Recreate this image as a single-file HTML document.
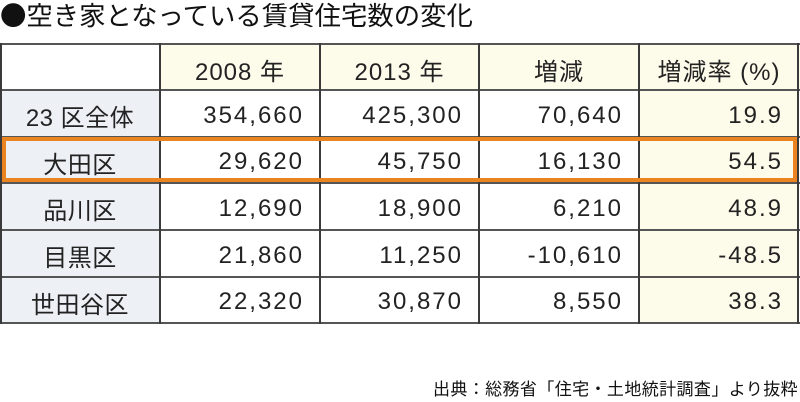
<!DOCTYPE html>
<html><head><meta charset="utf-8"><style>
html,body{margin:0;padding:0;background:#fff;}
body{width:800px;height:402px;position:relative;overflow:hidden;font-family:"Liberation Sans","Noto Sans CJK JP",sans-serif;color:#222;}
.t{position:absolute;left:0;top:-1px;font-family:"Noto Sans CJK JP",sans-serif;font-size:26.4px;line-height:30px;white-space:nowrap;color:#111;}
.c{position:absolute;box-sizing:border-box;font-size:24px;white-space:nowrap;display:flex;align-items:center;padding-top:4px;}
.n{justify-content:flex-end;padding-right:16px;letter-spacing:2px;}
.h{justify-content:center;letter-spacing:1px;}
.l{justify-content:center;letter-spacing:0.5px;}
.cr{background:#fdfbea;}
.bl{background:#edf1f6;}
.vl{position:absolute;background:#3a3a3a;width:2px;top:43px;height:281px;}
.hl{position:absolute;background:#555;height:2px;left:0;width:800px;}
.src{position:absolute;right:2px;top:377px;font-size:17px;letter-spacing:0.4px;line-height:22px;white-space:nowrap;color:#111;font-family:"Noto Sans CJK JP",sans-serif;}
</style></head><body>
<div class="t">●空き家となっている賃貸住宅数の変化</div>

<!-- backgrounds -->
<div class="c cr" style="left:160px;top:44px;width:640px;height:46px;"></div>
<div class="c bl" style="left:0;top:90px;width:160px;height:233px;"></div>
<div class="c cr" style="left:639px;top:90px;width:160px;height:233px;"></div>

<!-- header -->
<div class="c h" style="left:160px;top:44px;width:160px;height:46px;">2008 年</div>
<div class="c h" style="left:320px;top:44px;width:159px;height:46px;">2013 年</div>
<div class="c h" style="left:479px;top:44px;width:160px;height:46px;">増減</div>
<div class="c h" style="left:639px;top:44px;width:160px;height:46px;">増減率 (%)</div>

<!-- rows -->
<div class="c l" style="left:0;top:90px;width:160px;height:47px;">23 区全体</div>
<div class="c n" style="left:160px;top:90px;width:160px;height:47px;">354,660</div>
<div class="c n" style="left:320px;top:90px;width:159px;height:47px;">425,300</div>
<div class="c n" style="left:479px;top:90px;width:160px;height:47px;">70,640</div>
<div class="c n" style="left:639px;top:90px;width:160px;height:47px;">19.9</div>

<div class="c l" style="left:0;top:137px;width:160px;height:46px;">大田区</div>
<div class="c n" style="left:160px;top:137px;width:160px;height:46px;">29,620</div>
<div class="c n" style="left:320px;top:137px;width:159px;height:46px;">45,750</div>
<div class="c n" style="left:479px;top:137px;width:160px;height:46px;">16,130</div>
<div class="c n" style="left:639px;top:137px;width:160px;height:46px;">54.5</div>

<div class="c l" style="left:0;top:183px;width:160px;height:47px;">品川区</div>
<div class="c n" style="left:160px;top:183px;width:160px;height:47px;">12,690</div>
<div class="c n" style="left:320px;top:183px;width:159px;height:47px;">18,900</div>
<div class="c n" style="left:479px;top:183px;width:160px;height:47px;">6,210</div>
<div class="c n" style="left:639px;top:183px;width:160px;height:47px;">48.9</div>

<div class="c l" style="left:0;top:230px;width:160px;height:47px;">目黒区</div>
<div class="c n" style="left:160px;top:230px;width:160px;height:47px;">21,860</div>
<div class="c n" style="left:320px;top:230px;width:159px;height:47px;">11,250</div>
<div class="c n" style="left:479px;top:230px;width:160px;height:47px;">-10,610</div>
<div class="c n" style="left:639px;top:230px;width:160px;height:47px;">-48.5</div>

<div class="c l" style="left:0;top:277px;width:160px;height:46px;">世田谷区</div>
<div class="c n" style="left:160px;top:277px;width:160px;height:46px;">22,320</div>
<div class="c n" style="left:320px;top:277px;width:159px;height:46px;">30,870</div>
<div class="c n" style="left:479px;top:277px;width:160px;height:46px;">8,550</div>
<div class="c n" style="left:639px;top:277px;width:160px;height:46px;">38.3</div>

<!-- grid lines -->
<div class="hl" style="top:43px;"></div>
<div class="hl" style="top:89px;"></div>
<div class="hl" style="top:136px;"></div>
<div class="hl" style="top:182px;"></div>
<div class="hl" style="top:229px;"></div>
<div class="hl" style="top:276px;"></div>
<div class="hl" style="top:322px;"></div>
<div class="vl" style="left:0;"></div>
<div class="vl" style="left:159px;"></div>
<div class="vl" style="left:319px;"></div>
<div class="vl" style="left:478px;"></div>
<div class="vl" style="left:638px;"></div>
<div class="vl" style="left:797px;"></div>

<!-- highlight box -->
<div style="position:absolute;left:2px;top:137px;width:795px;height:45px;box-sizing:border-box;border:4px solid #ea8420;"></div>

<div class="src">出典：総務省「住宅・土地統計調査」より抜粋</div>
</body></html>
